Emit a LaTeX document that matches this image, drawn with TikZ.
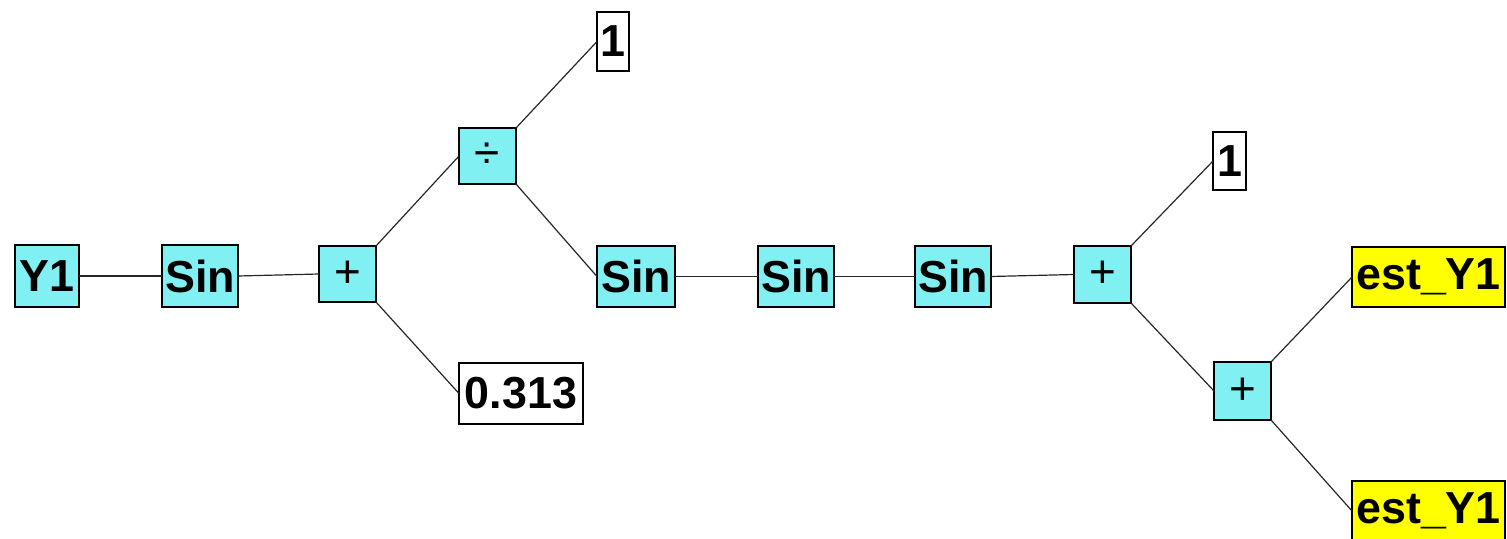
\documentclass[tikz,border=0pt]{standalone}
\usepackage{fontspec}
\setmainfont{Liberation Sans}
\definecolor{opcyan}{RGB}{128,240,242}
\definecolor{termyellow}{RGB}{255,255,0}
\tikzset{
  x=1bp, y=-1bp,
  gpbox/.style={draw=black, line width=1.4bp, inner sep=0pt, outer sep=0pt,
    font=\fontsize{45}{45}\selectfont\bfseries, text=black},
  opbox/.style={gpbox, fill=opcyan},
  symbox/.style={opbox, font=\fontsize{46}{46}\selectfont},
  constbox/.style={gpbox, fill=white},
  leafbox/.style={gpbox, fill=termyellow},
  edge/.style={draw=black!85, line width=1.2bp}
}
\begin{document}
\begin{tikzpicture}
\useasboundingbox (0,0) rectangle (1507,539);
% input and first operators
\node[opbox, minimum width=64bp, minimum height=62bp] (y1) at (47,276) {Y1};
\node[opbox, minimum width=76bp, minimum height=62bp] (sinA) at (200,276) {Sin};
\node[symbox, minimum width=57bp, minimum height=56bp] (plusA) at (347.5,274) {+};
% division branch and constant
\node[symbox, minimum width=57bp, minimum height=56bp] (divA) at (487.5,156) {÷};
\node[constbox, minimum width=32bp, minimum height=59bp] (oneA) at (613,41.5) {1};
\node[constbox, minimum width=124bp, minimum height=61bp] (cst) at (521,393.5) {0.313};
% chain of sines
\node[opbox, minimum width=78bp, minimum height=61bp] (sinB) at (636,276.5) {Sin};
\node[opbox, minimum width=76bp, minimum height=61bp] (sinC) at (796,276.5) {Sin};
\node[opbox, minimum width=76bp, minimum height=61bp] (sinD) at (953,276.5) {Sin};
% output sums
\node[symbox, minimum width=57bp, minimum height=57bp] (plusB) at (1102.5,274.5) {+};
\node[constbox, minimum width=33bp, minimum height=58bp] (oneB) at (1229.5,161) {1};
\node[leafbox, minimum width=153bp, minimum height=60bp] (estA) at (1428.5,277) {est\_Y1};
\node[symbox, minimum width=57bp, minimum height=58bp] (plusC) at (1242.5,391) {+};
\node[leafbox, minimum width=153bp, minimum height=60bp] (estB) at (1428.5,511) {est\_Y1};
% connectors
\draw[edge] (y1.east) -- (sinA.west);
\draw[edge] (sinA.east) -- (plusA.west);
\draw[edge] (plusA.north east) -- (divA.west);
\draw[edge] (plusA.south east) -- (cst.west);
\draw[edge] (divA.north east) -- (oneA.west);
\draw[edge] (divA.south east) -- (sinB.west);
\draw[edge] (sinB.east) -- (sinC.west);
\draw[edge] (sinC.east) -- (sinD.west);
\draw[edge] (sinD.east) -- (plusB.west);
\draw[edge] (plusB.north east) -- (oneB.west);
\draw[edge] (plusB.south east) -- (plusC.west);
\draw[edge] (plusC.north east) -- (estA.west);
\draw[edge] (plusC.south east) -- (estB.west);
\end{tikzpicture}
\end{document}
